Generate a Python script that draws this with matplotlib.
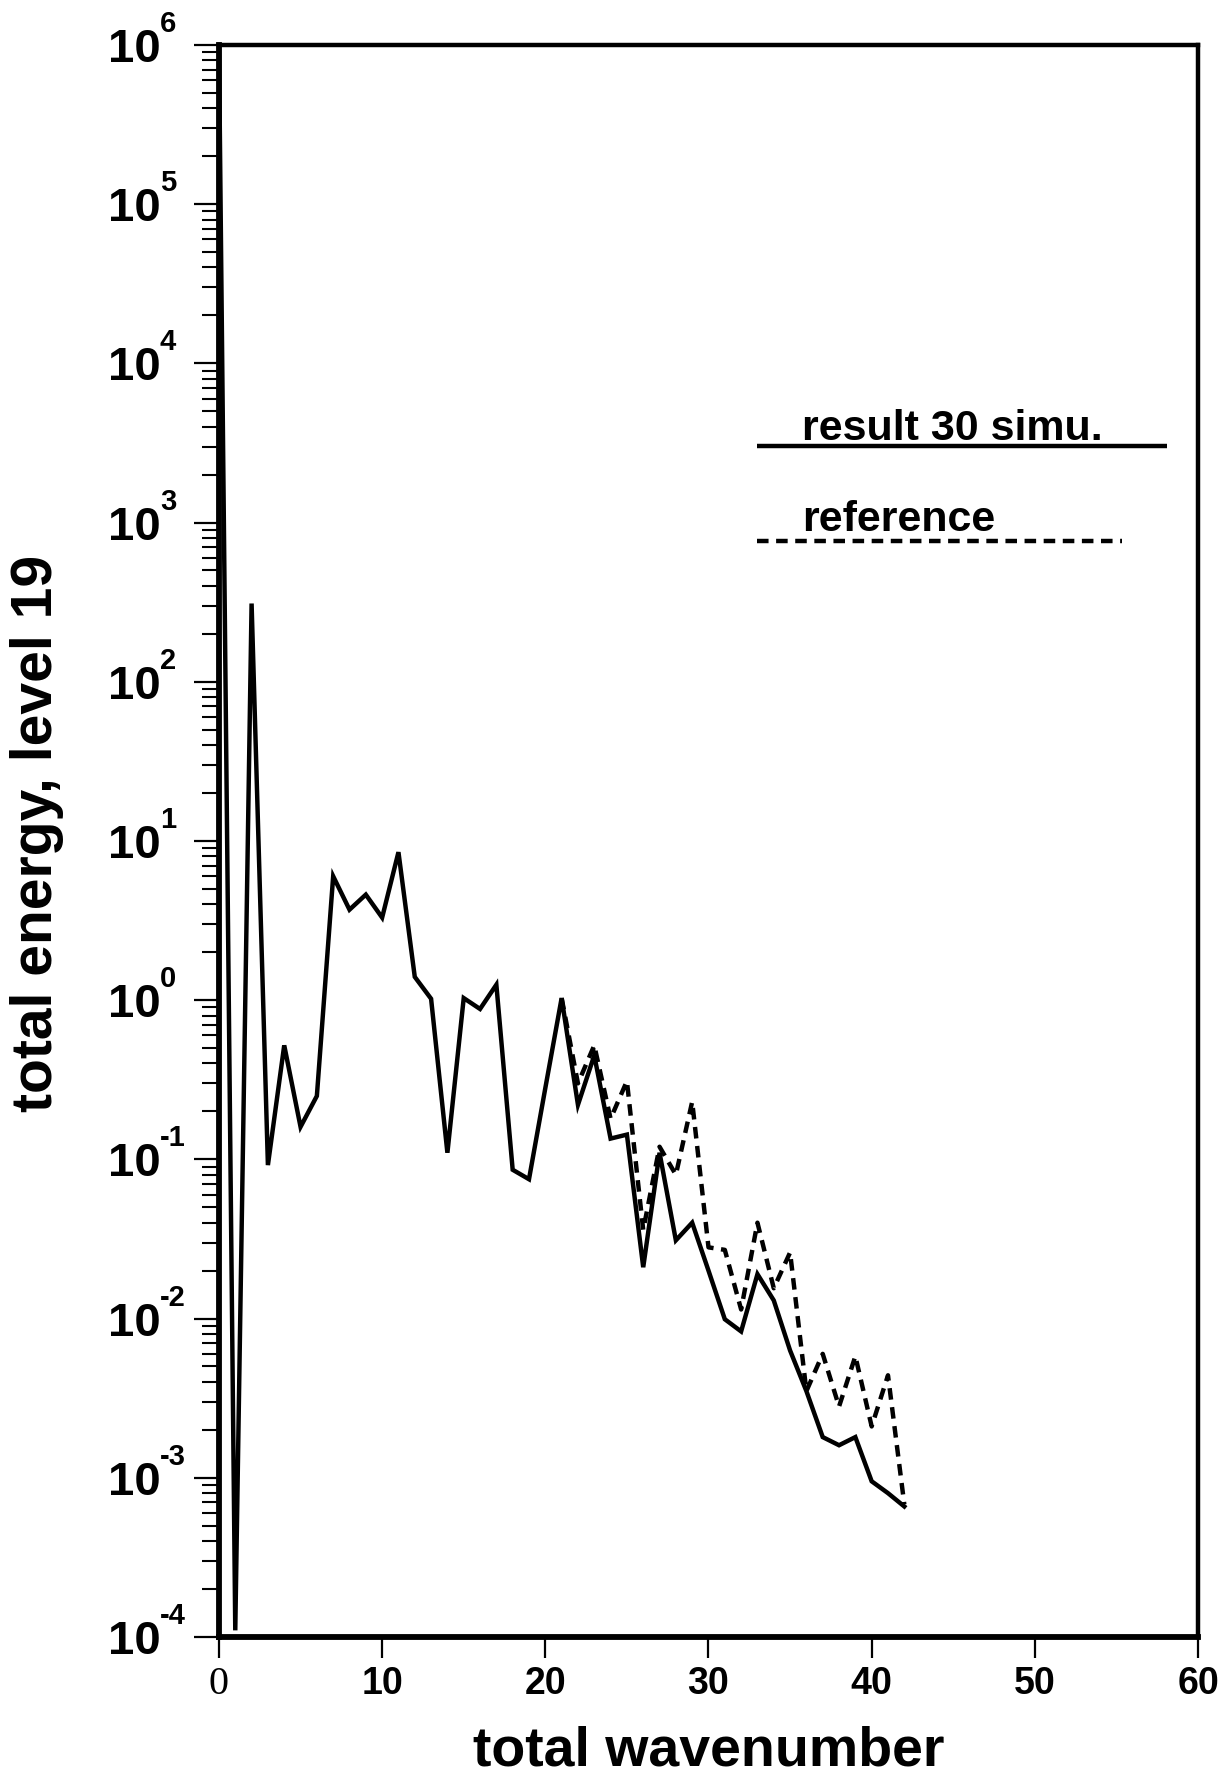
import numpy as np
import matplotlib
matplotlib.use("Agg")
import matplotlib.pyplot as plt
from matplotlib import font_manager
from matplotlib.ticker import LogLocator, NullFormatter, FixedLocator
from matplotlib.transforms import offset_copy

plt.rcParams['font.family'] = ['Liberation Sans', 'DejaVu Sans']

# ---- data ----
wavenumber_sim = list(range(0, 43))
energy_sim = [1.0e6, 1.1e-4, 310, 0.092, 0.52, 0.16, 0.25, 6.0, 3.7, 4.6,
              3.3, 8.5, 1.4, 1.02, 0.11, 1.03, 0.88, 1.25, 0.086, 0.075,
              0.28, 1.03, 0.22, 0.45, 0.135, 0.143, 0.021, 0.11, 0.031, 0.040,
              0.020, 0.0099, 0.0083, 0.019, 0.013, 0.0063, 0.0035, 0.0018, 0.0016, 0.0018,
              0.00095, 0.00080, 0.00066]
wavenumber_ref = list(range(21, 43))
energy_ref = [1.03, 0.30, 0.52, 0.18, 0.31, 0.036, 0.12, 0.08, 0.23, 0.028,
              0.027, 0.0114, 0.040, 0.0155, 0.026, 0.0035, 0.006, 0.0028, 0.0058, 0.0021,
              0.0044, 0.00068]
xticks = [0, 10, 20, 30, 40, 50, 60]
xticklabels = ['0', '10', '20', '30', '40', '50', '60']
yticks = [1e-4, 1e-3, 1e-2, 1e-1, 1e0, 1e1, 1e2, 1e3, 1e4, 1e5, 1e6]
yexps = ['-4', '-3', '-2', '-1', '0', '1', '2', '3', '4', '5', '6']
label_sim = 'result 30 simu.'
label_ref = 'reference'
xlabel = 'total wavenumber'
ylabel = 'total energy, level 19'

names = {f.name for f in font_manager.fontManager.ttflist}
if 'Liberation Sans Narrow' in names:
    TICKFONT = ['Liberation Sans Narrow', 'Liberation Sans']
    ysize, xsize = 37, 29
else:
    TICKFONT = ['Liberation Sans', 'DejaVu Sans']
    ysize, xsize = 34, 27

# ---- figure ----
fig = plt.figure(figsize=(12.28, 17.76), dpi=100)
ax = fig.add_axes([0.1783, 0.0783, 0.7973, 0.8964])

lw = 3.2
dash = (0, (2.6, 1.7))
ax.plot(wavenumber_ref, energy_ref, color='black', lw=lw, ls=dash,
        solid_joinstyle='miter', dash_capstyle='butt')
ax.plot(wavenumber_sim, energy_sim, color='black', lw=lw, solid_joinstyle='miter')

ax.set_yscale('log')
ax.set_xlim(0, 60)
ax.set_ylim(1e-4, 1e6)

ax.xaxis.set_major_locator(FixedLocator(xticks))
ax.set_xticklabels(xticklabels)
ax.yaxis.set_major_locator(FixedLocator(yticks))
ax.set_yticklabels(['10'] * len(yticks))
ax.yaxis.set_minor_locator(LogLocator(base=10, subs=np.arange(2, 10), numticks=100))
ax.yaxis.set_minor_formatter(NullFormatter())
ax.xaxis.set_minor_locator(FixedLocator([]))

ax.spines['left'].set_linewidth(4.2)
ax.spines['bottom'].set_linewidth(4.2)
ax.spines['top'].set_linewidth(3.2)
ax.spines['right'].set_linewidth(3.2)

ax.tick_params(axis='y', which='major', direction='out', length=18, width=1.6,
               labelsize=ysize, pad=24)
ax.tick_params(axis='y', which='minor', direction='out', length=12, width=1.5)
ax.tick_params(axis='x', which='major', direction='out', length=15, width=1.6,
               labelsize=xsize, pad=6)
for lab in ax.get_yticklabels():
    lab.set_fontfamily(TICKFONT)
    lab.set_fontweight('bold')
for lab in ax.get_xticklabels():
    lab.set_fontfamily(TICKFONT)
    lab.set_fontweight('bold')
ax.get_xticklabels()[0].set_fontfamily(['Liberation Serif'])
ax.get_xticklabels()[0].set_fontweight('normal')
ax.get_xticklabels()[0].set_fontsize(xsize + 2)

# exponents of the y tick labels
ytrans = offset_copy(ax.get_yaxis_transform(), fig=fig, x=-59, y=13, units='dots')
for v, e in zip(yticks, yexps):
    ax.text(0, v, e, transform=ytrans, fontsize=21, fontweight='bold',
            family=TICKFONT, ha='left', va='baseline', clip_on=False)

ax.set_xlabel(xlabel, fontsize=40, fontweight='bold', labelpad=16)
ax.set_ylabel(ylabel, fontsize=41, fontweight='bold')
ax.yaxis.set_label_coords(-0.158, 0.505)

# ---- legend drawn as in original ----
ax.plot([0.5496, 0.9683], [0.7481, 0.7481], transform=ax.transAxes, color='black',
        lw=lw, solid_capstyle='butt')
ax.text(0.5955, 0.7519, label_sim, transform=ax.transAxes, fontsize=31,
        fontweight='bold', ha='left', va='baseline')
ax.plot([0.5496, 0.9224], [0.6884, 0.6884], transform=ax.transAxes, color='black',
        lw=lw, ls=dash, dash_capstyle='butt')
ax.text(0.5955, 0.6947, label_ref, transform=ax.transAxes, fontsize=31,
        fontweight='bold', ha='left', va='baseline')

fig.savefig('out.png', dpi=100)
